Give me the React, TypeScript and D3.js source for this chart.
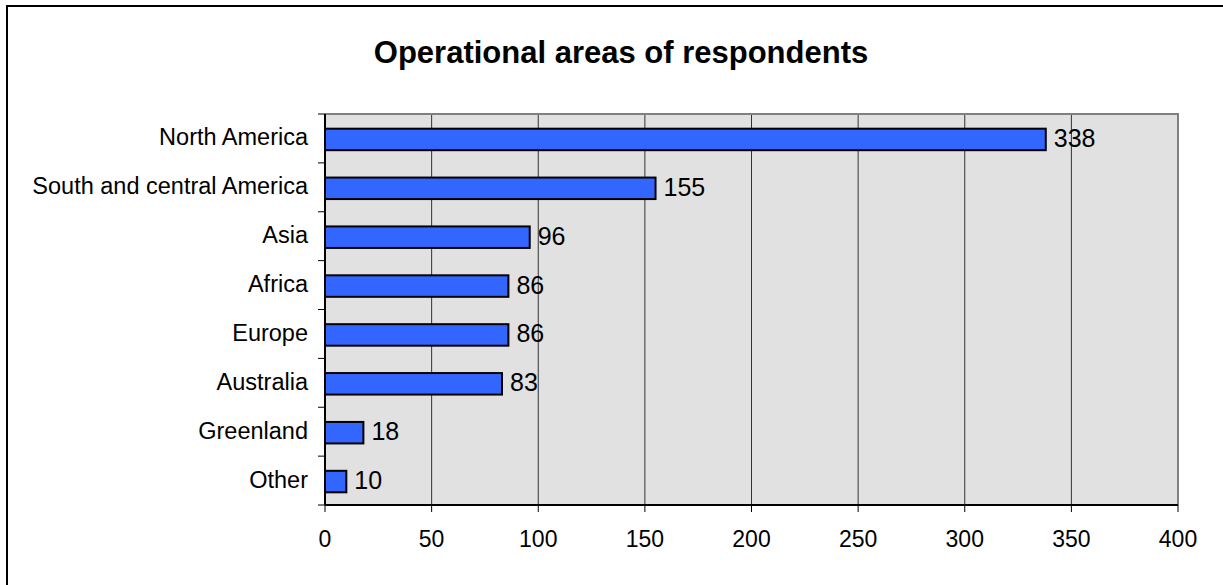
import React from 'react';
import * as d3 from 'd3';

const categories = [
  'North America',
  'South and central America',
  'Asia',
  'Africa',
  'Europe',
  'Australia',
  'Greenland',
  'Other',
];
const values = [338, 155, 96, 86, 86, 83, 18, 10];
const xTicks = [0, 50, 100, 150, 200, 250, 300, 350, 400];

const W = 1223;
const H = 585;
const plot = { left: 325, top: 114, right: 1178, bottom: 505 };
const font = "Arial, 'Liberation Sans', Helvetica, sans-serif";

const App: React.FC = () => {
  const x = d3.scaleLinear().domain([0, 400]).range([plot.left, plot.right]);
  const y = d3
    .scaleBand<string>()
    .domain(categories)
    .range([plot.top, plot.bottom])
    .paddingInner(0.56)
    .paddingOuter(0.28);
  const band = d3
    .scaleBand<string>()
    .domain(categories)
    .range([plot.top, plot.bottom]);

  return (
    <svg
      width={W}
      height={H}
      style={{ position: 'absolute', left: 0, top: 0, background: '#fff' }}
      fontFamily={font}
    >
      {/* outer chart frame */}
      <rect x={7} y={6} width={W + 20} height={H + 20} fill="#fff" stroke="#000" strokeWidth={2} />

      <text x={621} y={63} textAnchor="middle" fontSize={31} fontWeight="bold">
        Operational areas of respondents
      </text>

      {/* plot area */}
      <rect
        x={plot.left}
        y={plot.top}
        width={plot.right - plot.left}
        height={plot.bottom - plot.top}
        fill="#e1e1e1"
      />

      {/* vertical gridlines */}
      {xTicks.slice(1, -1).map((t) => (
        <line key={t} x1={x(t)} x2={x(t)} y1={plot.top} y2={plot.bottom} stroke="#333" strokeWidth={1} />
      ))}

      {/* plot border top + right */}
      <path
        d={`M${plot.left},${plot.top}H${plot.right}V${plot.bottom}`}
        fill="none"
        stroke="#808080"
        strokeWidth={2}
      />

      {/* bars */}
      {categories.map((c, i) => (
        <rect
          key={c}
          x={x(0)}
          y={y(c)! + 1}
          width={x(values[i]) - x(0)}
          height={y.bandwidth()}
          fill="#3366ff"
          stroke="#000"
          strokeWidth={2}
        />
      ))}

      {/* value labels */}
      {categories.map((c, i) => (
        <text
          key={c}
          x={x(values[i]) + 8}
          y={band(c)! + band.bandwidth() / 2 + 8.5}
          fontSize={25}
        >
          {values[i]}
        </text>
      ))}

      {/* y axis */}
      <line x1={plot.left} x2={plot.left} y1={plot.top} y2={plot.bottom} stroke="#000" strokeWidth={2} />
      {d3.range(categories.length + 1).map((i) => {
        const yy = plot.top + i * band.step();
        return <line key={i} x1={plot.left - 7} x2={plot.left} y1={yy} y2={yy} stroke="#000" strokeWidth={1} />;
      })}
      {categories.map((c) => (
        <text
          key={c}
          x={308}
          y={band(c)! + band.bandwidth() / 2 + 7}
          textAnchor="end"
          fontSize={23.5}
        >
          {c}
        </text>
      ))}

      {/* x axis */}
      <line x1={plot.left} x2={plot.right} y1={plot.bottom} y2={plot.bottom} stroke="#000" strokeWidth={2} />
      {xTicks.map((t) => (
        <g key={t}>
          <line x1={x(t)} x2={x(t)} y1={plot.bottom} y2={plot.bottom + 7} stroke="#000" strokeWidth={1} />
          <text x={x(t)} y={547} textAnchor="middle" fontSize={23}>
            {t}
          </text>
        </g>
      ))}
    </svg>
  );
};

export default App;
